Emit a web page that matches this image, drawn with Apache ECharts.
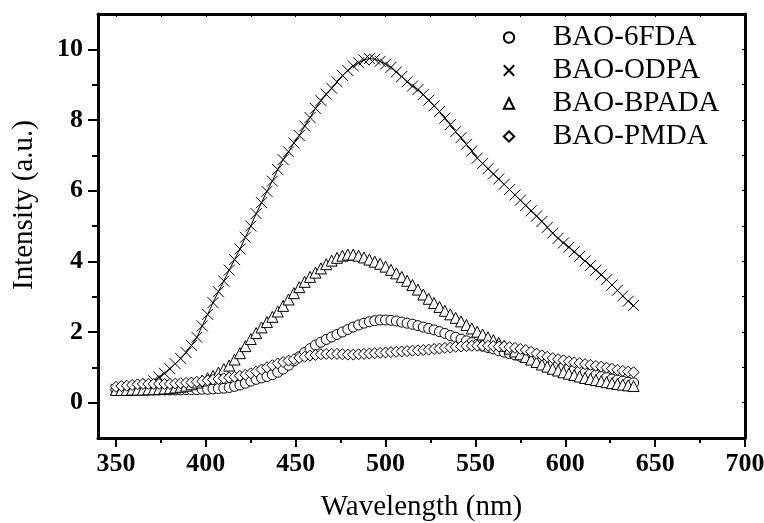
<!DOCTYPE html>
<html>
<head>
<meta charset="utf-8">
<script src="https://cdn.jsdelivr.net/npm/echarts@6/dist/echarts.min.js"></script>
<style>html,body{margin:0;padding:0;background:#fff}#c{width:764px;height:523px}</style>
</head>
<body>
<div id="c"></div>
<script>
const wavelength = [350,353,356,359,362,365,368,371,374,377,380,383,386,389,392,395,398,401,404,407,410,413,416,419,422,425,428,431,434,437,440,443,446,449,452,455,458,461,464,467,470,473,476,479,482,485,488,491,494,497,500,503,506,509,512,515,518,521,524,527,530,533,536,539,542,545,548,551,554,557,560,563,566,569,572,575,578,581,584,587,590,593,596,599,602,605,608,611,614,617,620,623,626,629,632,635,638];
const bao6FDA = [0.36,0.36,0.36,0.36,0.36,0.36,0.36,0.36,0.36,0.36,
0.36,0.36,0.36,0.37,0.37,0.37,0.38,0.38,0.39,0.40,
0.41,0.43,0.46,0.50,0.55,0.61,0.66,0.70,0.74,0.79,
0.86,0.95,1.06,1.18,1.30,1.42,1.53,1.63,1.71,1.79,
1.86,1.93,2.00,2.07,2.14,2.20,2.25,2.29,2.32,2.34,
2.34,2.33,2.31,2.28,2.25,2.22,2.18,2.14,2.10,2.06,
2.01,1.96,1.90,1.85,1.80,1.75,1.70,1.65,1.60,1.56,
1.52,1.47,1.43,1.39,1.35,1.31,1.28,1.24,1.21,1.17,
1.13,1.09,1.05,1.01,0.97,0.93,0.89,0.85,0.81,0.78,
0.74,0.71,0.67,0.64,0.61,0.58,0.56];
const baoODPA = [0.38,0.38,0.38,0.40,0.42,0.46,0.53,0.62,0.72,0.83,
0.96,1.10,1.25,1.42,1.62,1.85,2.17,2.50,2.83,3.14,
3.44,3.75,4.05,4.35,4.68,5.00,5.35,5.66,5.98,6.27,
6.60,6.88,7.10,7.35,7.56,7.83,8.07,8.33,8.55,8.73,
8.90,9.08,9.26,9.40,9.53,9.62,9.70,9.74,9.72,9.66,
9.58,9.49,9.36,9.23,9.08,8.96,8.86,8.72,8.56,8.40,
8.24,8.05,7.87,7.67,7.50,7.31,7.12,6.92,6.77,6.62,
6.47,6.33,6.18,6.03,5.88,5.73,5.58,5.43,5.28,5.13,
4.96,4.80,4.65,4.52,4.40,4.27,4.14,4.01,3.88,3.75,
3.62,3.48,3.33,3.18,3.02,2.87,2.75];
const baoBPADA = [0.36,0.36,0.36,0.37,0.37,0.37,0.38,0.38,0.39,0.40,
0.41,0.43,0.45,0.48,0.52,0.57,0.63,0.69,0.76,0.85,
0.95,1.05,1.22,1.40,1.60,1.80,1.97,2.13,2.28,2.43,
2.58,2.74,2.92,3.10,3.27,3.42,3.56,3.68,3.80,3.92,
4.02,4.10,4.16,4.19,4.19,4.16,4.11,4.05,3.99,3.93,
3.85,3.76,3.66,3.56,3.45,3.33,3.20,3.06,2.94,2.82,
2.71,2.60,2.50,2.40,2.30,2.20,2.10,2.01,1.93,1.85,
1.77,1.69,1.61,1.53,1.45,1.37,1.29,1.22,1.15,1.08,
1.02,0.96,0.91,0.86,0.82,0.78,0.74,0.70,0.67,0.64,
0.61,0.58,0.55,0.53,0.51,0.49,0.47];
const baoPMDA = [0.45,0.47,0.48,0.50,0.52,0.53,0.53,0.53,0.53,0.53,
0.53,0.54,0.55,0.56,0.57,0.59,0.61,0.63,0.65,0.67,
0.69,0.71,0.73,0.76,0.79,0.83,0.88,0.94,1.00,1.06,
1.11,1.15,1.19,1.23,1.27,1.30,1.33,1.35,1.37,1.38,
1.38,1.38,1.37,1.36,1.36,1.37,1.38,1.39,1.40,1.41,
1.42,1.43,1.44,1.45,1.46,1.47,1.48,1.49,1.50,1.52,
1.53,1.55,1.56,1.58,1.59,1.60,1.61,1.61,1.61,1.61,
1.60,1.59,1.59,1.57,1.55,1.52,1.49,1.44,1.39,1.34,
1.30,1.26,1.23,1.20,1.17,1.14,1.12,1.09,1.07,1.04,
1.02,0.99,0.96,0.93,0.90,0.88,0.86];
const seriesNames = ['BAO-6FDA','BAO-ODPA','BAO-BPADA','BAO-PMDA'];
const xMajorTicks = [350,400,450,500,550,600,650,700];
const xMinorTicks = [375,425,475,525,575,625,675];
const xTopTicks = [350,375,400,425,450,475,500,525,550,575,600,625,650,675,700];
const yMajorTicks = [0,2,4,6,8,10];
const yMinorTicks = [1,3,5,7,9];
const yRightTicks = [0,1,2,3,4,5,6,7,8,9,10];

const FONT = "'Liberation Serif','Times New Roman',serif";
const pair = arr => wavelength.map((w,i)=>[w,arr[i]]);
const crossPath = 'path://M0,0L10,10M0,10L10,0';
const symbols = ['circle', crossPath, 'triangle', 'diamond'];
const dataSets = [bao6FDA, baoODPA, baoBPADA, baoPMDA];

const chart = echarts.init(document.getElementById('c'), null, {renderer:'canvas'});
const axisLineStyle = {show:true, onZero:false, lineStyle:{color:'#000', width:3}};
const baseX = {type:'value', min:340, max:700, splitLine:{show:false}, gridIndex:0};
const baseY = {type:'value', min:-1, max:11, splitLine:{show:false}, gridIndex:0};

chart.setOption({
  animation:false,
  backgroundColor:'#fff',
  grid:{left:98, right:19, top:14, bottom:85, containLabel:false, outerBoundsMode:'none'},
  legend:{
    orient:'vertical', left:496, top:18, itemGap:4,
    itemWidth:14, itemHeight:13,
    data: seriesNames,
    textStyle:{fontFamily:FONT, fontSize:29, color:'#000', lineHeight:29, padding:[0,0,0,32]},
    lineStyle:{opacity:0}
  },
  xAxis:[
    Object.assign({}, baseX, {
      position:'bottom', axisLine:axisLineStyle,
      axisTick:{show:true, inside:false, length:9, lineStyle:{color:'#000', width:2}, customValues:xMajorTicks},
      axisLabel:{show:true, margin:13, customValues:xMajorTicks, fontFamily:FONT, fontWeight:'bold', fontSize:26, color:'#000'},
      name:'Wavelength (nm)', nameLocation:'middle', nameGap:55,
      nameTextStyle:{fontFamily:FONT, fontSize:29, color:'#000', lineHeight:29}
    }),
    Object.assign({}, baseX, {
      position:'bottom', axisLine:{show:false, onZero:false},
      axisTick:{show:true, inside:false, length:5, lineStyle:{color:'#000', width:2}, customValues:xMinorTicks},
      axisLabel:{show:false}
    }),
    Object.assign({}, baseX, {
      position:'top', axisLine:axisLineStyle,
      axisTick:{show:true, inside:true, length:3, lineStyle:{color:'#000', width:1}, customValues:xTopTicks},
      axisLabel:{show:false}
    })
  ],
  yAxis:[
    Object.assign({}, baseY, {
      position:'left', axisLine:axisLineStyle,
      axisTick:{show:true, inside:false, length:10, lineStyle:{color:'#000', width:2}, customValues:yMajorTicks},
      axisLabel:{show:true, margin:15, customValues:yMajorTicks, fontFamily:FONT, fontWeight:'bold', fontSize:26, color:'#000'},
      name:'Intensity (a.u.)', nameLocation:'middle', nameGap:59,
      nameTextStyle:{fontFamily:FONT, fontSize:29, color:'#000', lineHeight:29, padding:[0,0,0,42]}
    }),
    Object.assign({}, baseY, {
      position:'left', axisLine:{show:false, onZero:false},
      axisTick:{show:true, inside:false, length:6, lineStyle:{color:'#000', width:2}, customValues:yMinorTicks},
      axisLabel:{show:false}
    }),
    Object.assign({}, baseY, {
      position:'right', axisLine:axisLineStyle,
      axisTick:{show:true, inside:true, length:3, lineStyle:{color:'#000', width:1}, customValues:yRightTicks},
      axisLabel:{show:false}
    })
  ],
  series: seriesNames.map((name, i) => ({
    name, type:'line', xAxisIndex:0, yAxisIndex:0,
    data: pair(dataSets[i]),
    symbol: symbols[i],
    symbolSize: i === 0 ? 10 : 11,
    showAllSymbol:true,
    lineStyle:{color:'#000', width:1},
    itemStyle: i === 1 ? {color:'none', borderColor:'#000', borderWidth:1} : {color:'#fff', borderColor:'#000', borderWidth:1},
    emphasis:{disabled:true}
  }))
});
</script>
</body>
</html>
